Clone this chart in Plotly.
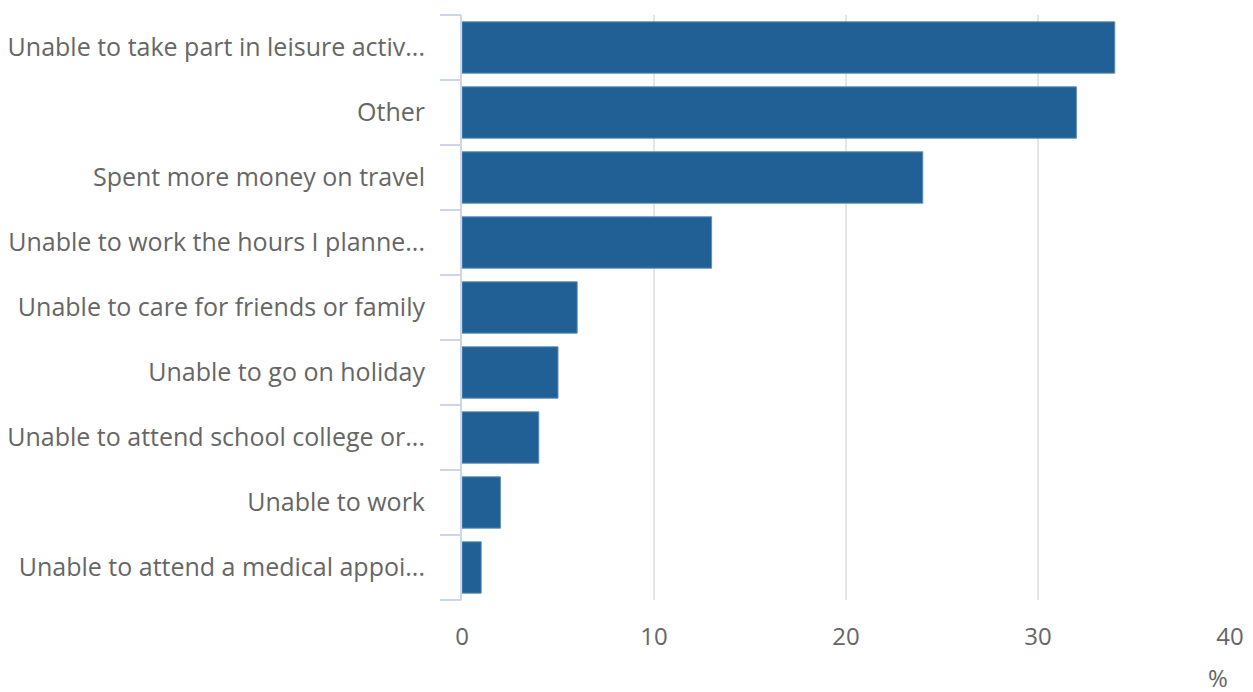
import plotly.graph_objects as go

categories = [
    "Unable to take part in leisure activ...",
    "Other",
    "Spent more money on travel",
    "Unable to work the hours I planne...",
    "Unable to care for friends or family",
    "Unable to go on holiday",
    "Unable to attend school college or...",
    "Unable to work",
    "Unable to attend a medical appoi...",
]
values = [34, 32, 24, 13, 6, 5, 4, 2, 1]
x_ticks = [0, 10, 20, 30, 40]
unit_label = "%"

bar_color = "#206095"
text_color = "#666666"
font_family = "Open Sans"
fsize = 25

fig = go.Figure()
fig.add_trace(go.Bar(
    y=categories,
    x=values,
    orientation="h",
    marker=dict(color=bar_color, line=dict(color="#5f8fba", width=1)),
    hoverinfo="x+y",
    showlegend=False,
))

n = len(categories)
boundaries = [i - 0.5 for i in range(n + 1)]

fig.add_trace(go.Scatter(x=[None], y=[None], yaxis="y2", showlegend=False, hoverinfo="skip"))

# page body has an 8px margin, so the figure is sized/margined to compensate
fig.update_layout(
    width=1245,
    height=684,
    margin=dict(l=454, r=23, t=7, b=92, autoexpand=False),
    plot_bgcolor="white",
    paper_bgcolor="white",
    font=dict(family=font_family, size=fsize, color=text_color),
    bargap=0.21,
    xaxis=dict(
        range=[0, 40],
        tickvals=x_ticks,
        showgrid=True,
        gridcolor="#e6e6e6",
        gridwidth=2,
        zeroline=False,
        showline=False,
        ticks="",
        ticklabelstandoff=20,
        tickfont=dict(size=fsize - 1, color=text_color),
        automargin=False,
        fixedrange=True,
    ),
    yaxis=dict(
        categoryorder="array",
        categoryarray=categories,
        autorange=False,
        range=[n - 0.5, -0.5],
        showline=True,
        linecolor="#ccd6eb",
        linewidth=2,
        showgrid=False,
        ticks="",
        ticklabelstandoff=30,
        tickfont=dict(size=fsize, color=text_color),
        automargin=False,
        fixedrange=True,
    ),
    yaxis2=dict(
        overlaying="y",
        side="left",
        range=[n - 0.5, -0.5],
        tickvals=boundaries,
        ticktext=[""] * len(boundaries),
        ticks="outside",
        ticklen=21,
        tickwidth=2,
        tickcolor="#ccd6eb",
        showgrid=False,
        zeroline=False,
        showline=False,
        automargin=False,
        fixedrange=True,
    ),
    annotations=[dict(
        text=unit_label,
        xref="paper", yref="paper",
        x=1, y=0, xanchor="right", yanchor="bottom",
        yshift=-90,
        height=22,
        valign="middle",
        showarrow=False,
        font=dict(size=fsize - 1, color=text_color),
    )],
)

fig.write_html("out.html")
